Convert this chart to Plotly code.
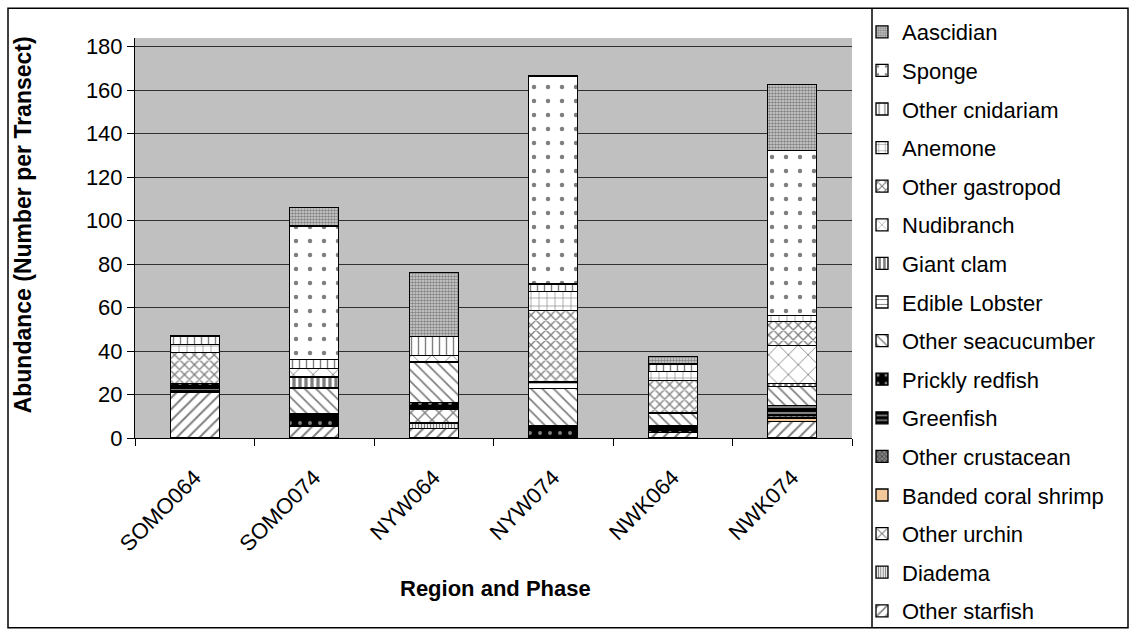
import plotly.graph_objects as go

# Sites (region + phase)
categories = ["SOMO064", "SOMO074", "NYW064", "NYW074", "NWK064", "NWK074"]

# Abundance per transect, one list per group (stacked bottom -> top)
other_starfish = [21, 5.5, 4.3, 0, 2.5, 7.7]
diadema = [0, 0, 2.6, 0, 0, 0]
other_urchin = [0, 0, 6.5, 0, 0, 0]
banded_coral_shrimp = [0, 0, 0, 0, 0, 1.5]
other_crustacean = [0, 0, 0, 0, 0, 1.2]
greenfish = [2, 0, 0, 0, 0, 4.4]
prickly_redfish = [2, 5.5, 2.9, 5.8, 3, 0]
other_seacucumber = [0, 12, 18.7, 16.9, 6, 8.8]
edible_lobster = [0, 0, 0, 3, 0, 0]
giant_clam = [0, 5, 0, 0, 0, 1.5]
nudibranch = [0, 4, 3, 0, 0, 17.5]
other_gastropod = [14.5, 0, 0, 33, 15, 11.1]
anemone = [3.5, 0, 0, 8.8, 4, 2.6]
other_cnidariam = [4, 4, 8.7, 3.3, 3.5, 0]
sponge = [0, 61.5, 0, 95.8, 0, 75.9]
aascidian = [0, 8.5, 29.3, 0, 3.5, 30.4]

y_ticks = [0, 20, 40, 60, 80, 100, 120, 140, 160, 180]

series = [
    ("Other starfish", other_starfish),
    ("Diadema", diadema),
    ("Other urchin", other_urchin),
    ("Banded coral shrimp", banded_coral_shrimp),
    ("Other crustacean", other_crustacean),
    ("Greenfish", greenfish),
    ("Prickly redfish", prickly_redfish),
    ("Other seacucumber", other_seacucumber),
    ("Edible Lobster", edible_lobster),
    ("Giant clam", giant_clam),
    ("Nudibranch", nudibranch),
    ("Other gastropod", other_gastropod),
    ("Anemone", anemone),
    ("Other cnidariam", other_cnidariam),
    ("Sponge", sponge),
    ("Aascidian", aascidian),
]

# fill styles: (background, pattern shape, foreground, size, solidity)
styles = {
    "Other starfish": ("white", "/", "black", 8, 0.25),
    "Diadema": ("white", "|", "black", 3, 0.45),
    "Other urchin": ("white", "x", "black", 10, 0.25),
    "Banded coral shrimp": ("#F2C89B", "", "black", 8, 0.2),
    "Other crustacean": ("#808080", "x", "black", 4, 0.4),
    "Greenfish": ("black", "-", "white", 6, 0.35),
    "Prickly redfish": ("black", ".", "white", 10, 0.12),
    "Other seacucumber": ("white", "\\", "black", 8, 0.22),
    "Edible Lobster": ("white", "-", "black", 6, 0.2),
    "Giant clam": ("white", "|", "black", 6, 0.55),
    "Nudibranch": ("white", "x", "black", 14, 0.12),
    "Other gastropod": ("white", "x", "black", 7, 0.35),
    "Anemone": ("white", "+", "black", 8, 0.15),
    "Other cnidariam": ("white", "|", "black", 7, 0.2),
    "Sponge": ("white", ".", "black", 14, 0.08),
    "Aascidian": ("#d8d8d8", ".", "#303030", 3, 0.6),
}

fig = go.Figure()
n = len(series)
for i, (name, vals) in enumerate(series):
    bg, shape, fg, size, sol = styles[name]
    fig.add_trace(go.Bar(
        name=name,
        x=categories,
        y=vals,
        legendgroup=f"g{i}",
        legendrank=n - i,  # top of the stack listed first
        marker=dict(
            color=bg,
            line=dict(color="black", width=1.3),
            pattern=dict(shape=shape, bgcolor=bg, fgcolor=fg, size=size,
                         solidity=sol, fillmode="overlay"),
        ),
    ))

# plot-area geometry in pixels
W, H = 1133, 632
PL, PR, PT, PB = 135, 852, 35, 438.5


def px_x(X):
    return (X - PL) / (PR - PL)


def px_y(Y):
    return (PB - Y) / (PB - PT)


FONT = "Liberation Sans, Arial, sans-serif"

fig.update_layout(
    width=W, height=H,
    margin=dict(l=PL, r=W - PR, t=PT, b=H - PB, pad=0),
    barmode="stack",
    bargap=0.59,
    plot_bgcolor="#C0C0C0",
    paper_bgcolor="white",
    font=dict(family=FONT, size=22, color="black"),
    showlegend=True,
    legend=dict(
        traceorder="grouped",
        tracegroupgap=7,
        x=px_x(862), y=px_y(9), xanchor="left", yanchor="top",
        font=dict(family=FONT, size=22, color="black"),
        bgcolor="rgba(0,0,0,0)", borderwidth=0,
        itemwidth=30,
        maxheight=1000,
    ),
    xaxis=dict(
        type="category",
        showline=True, linecolor="black", linewidth=1,
        ticks="outside", tickson="boundaries", ticklen=7, tickcolor="black",
        tickangle=-45, tickfont=dict(family=FONT, size=22),
        ticklabelstandoff=17,
        showgrid=False,
    ),
    yaxis=dict(
        range=[0, (PB - PT) / 2.1925],
        tickvals=y_ticks,
        showline=True, linecolor="black", linewidth=1,
        ticks="outside", ticklen=7, tickcolor="black",
        tickfont=dict(family=FONT, size=22),
        showgrid=True, gridcolor="#303030", gridwidth=1,
        zeroline=False,
    ),
    annotations=[
        dict(text="<b>Abundance (Number per Transect)</b>", textangle=-90,
             xref="paper", yref="paper", x=px_x(23), y=px_y(224),
             xanchor="center", yanchor="middle", showarrow=False,
             font=dict(family=FONT, size=23, color="black")),
        dict(text="<b>Region and Phase</b>",
             xref="paper", yref="paper", x=px_x(495), y=px_y(590),
             xanchor="center", yanchor="middle", showarrow=False,
             font=dict(family=FONT, size=22, color="black")),
    ],
    shapes=[
        dict(type="rect", xref="paper", yref="paper",
             x0=px_x(8), x1=px_x(1128), y0=px_y(630), y1=px_y(5),
             line=dict(color="black", width=1.5), layer="below"),
        dict(type="line", xref="paper", yref="paper",
             x0=px_x(872), x1=px_x(872), y0=px_y(630), y1=px_y(5),
             line=dict(color="black", width=1.5)),
    ],
)

fig.write_html("out.html")
